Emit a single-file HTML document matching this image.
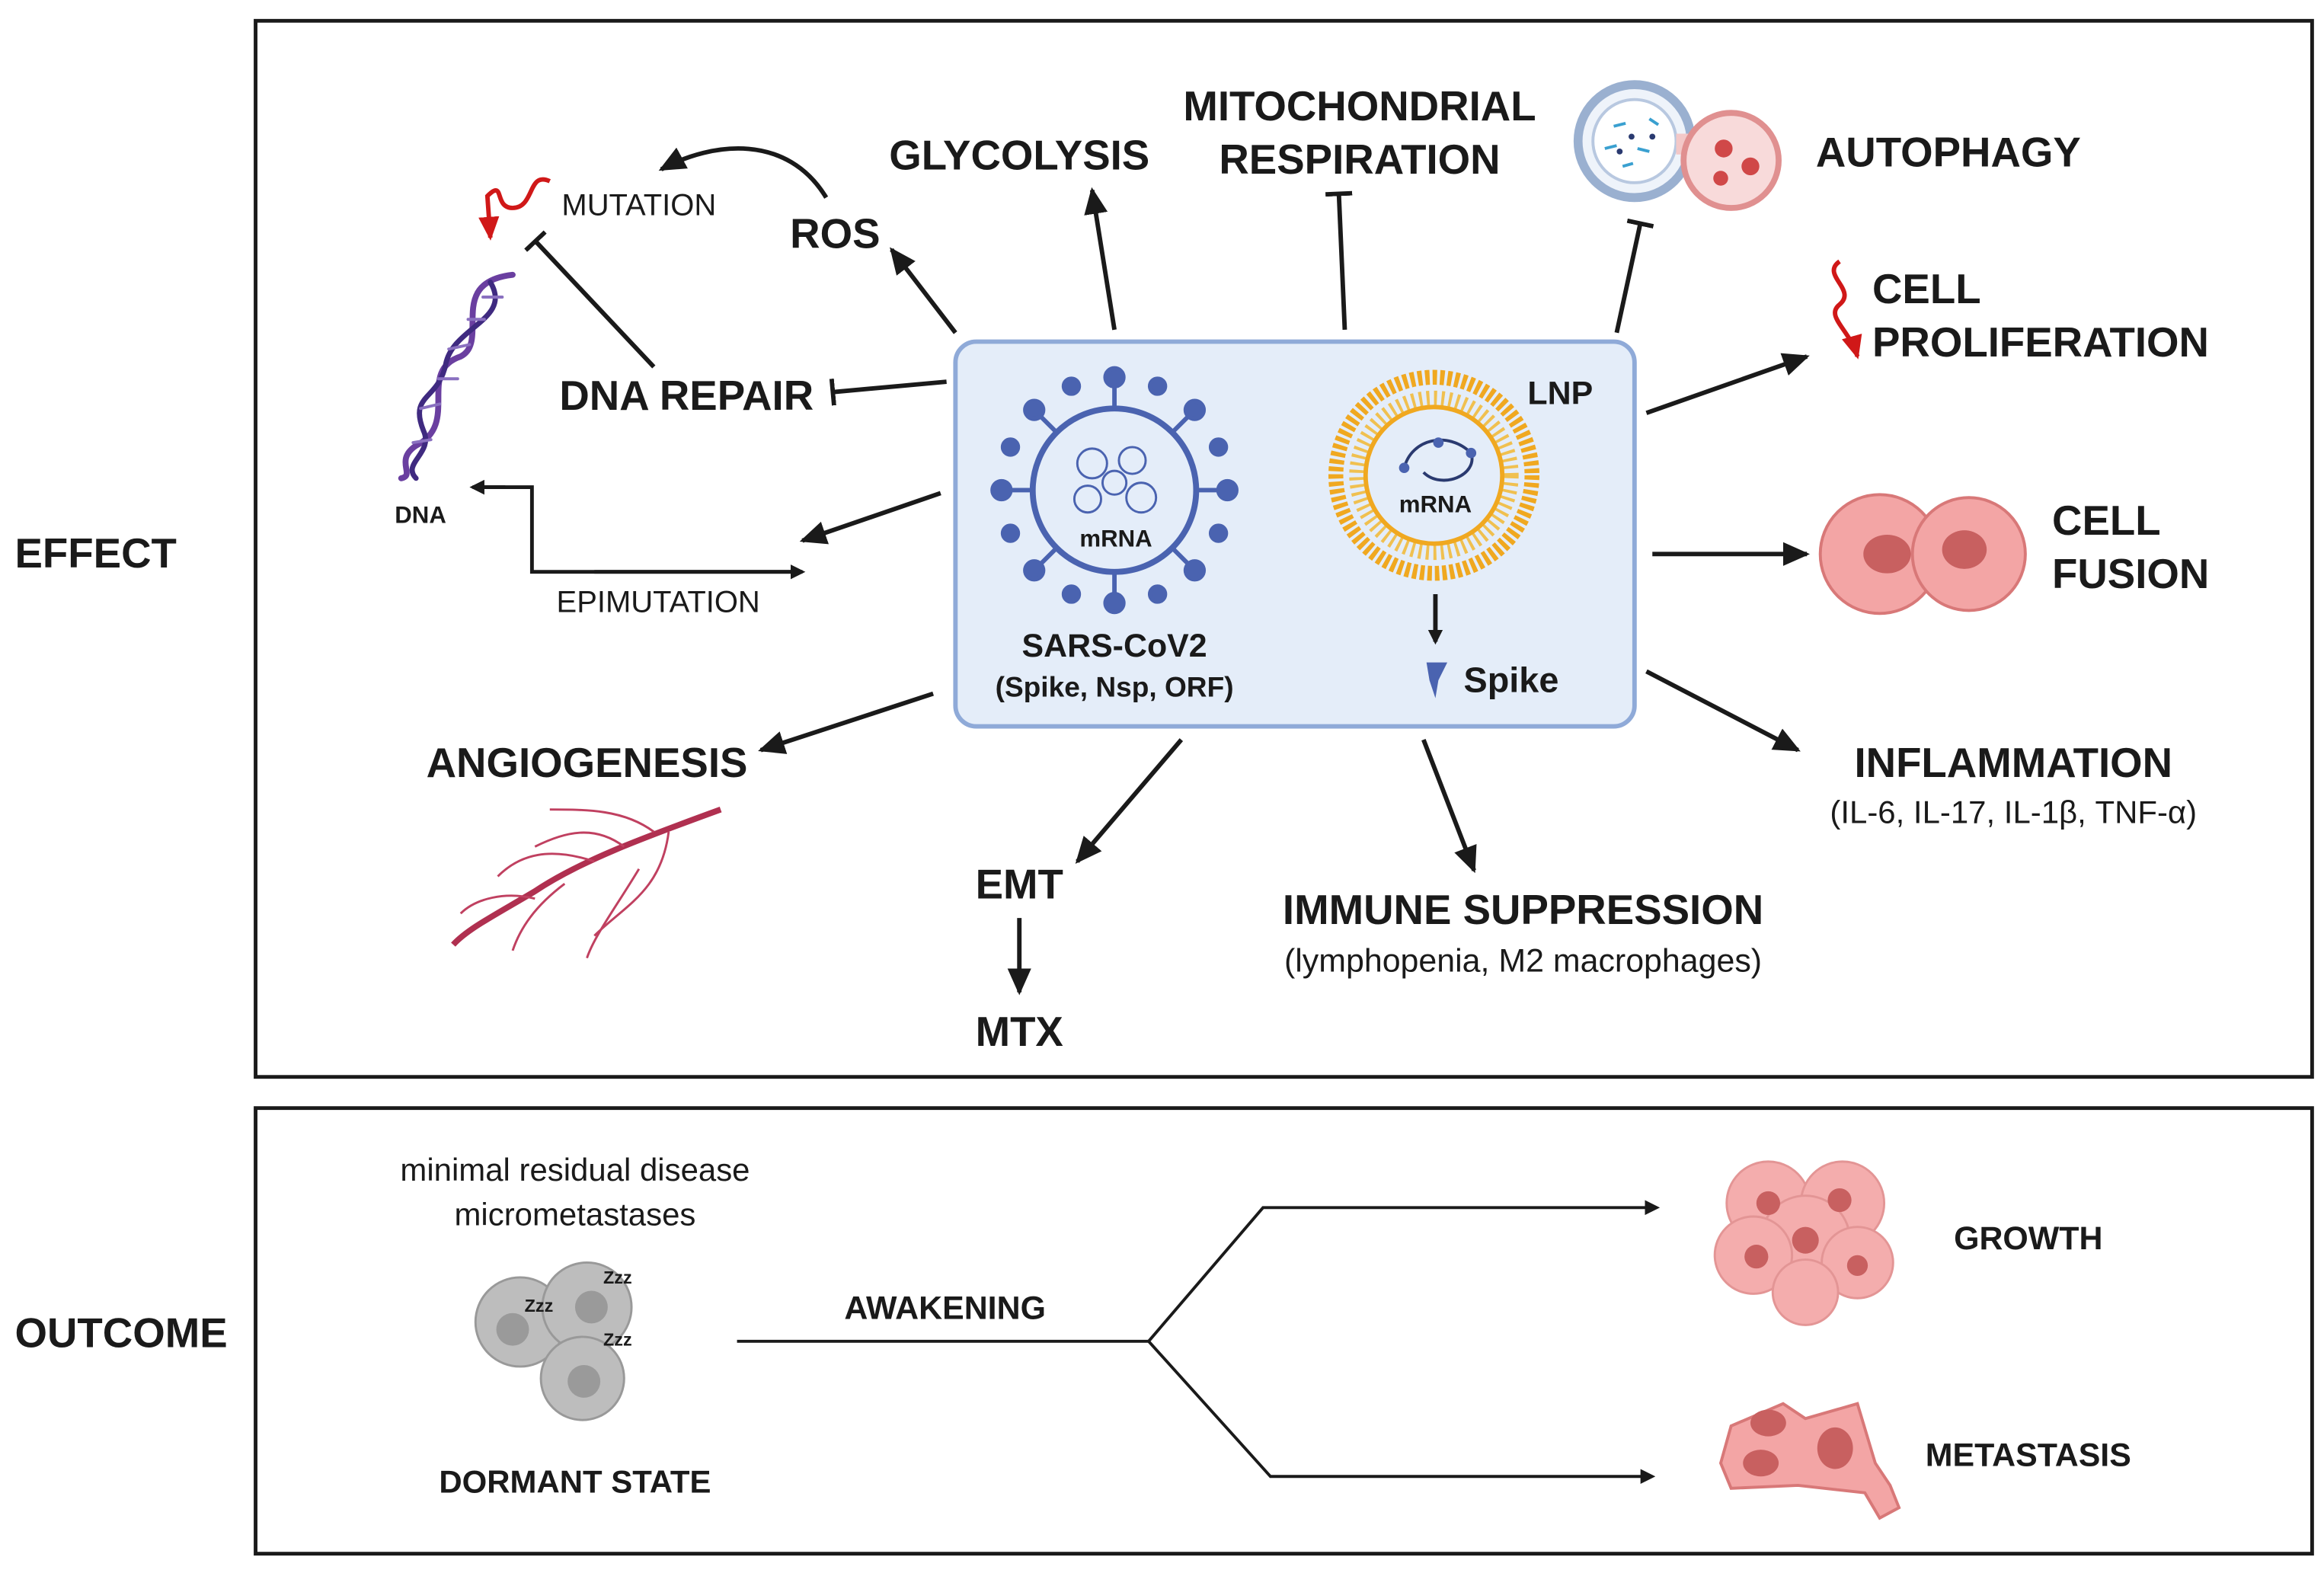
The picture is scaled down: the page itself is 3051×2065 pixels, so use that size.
<!DOCTYPE html>
<html><head><meta charset="utf-8"><style>
html,body{margin:0;padding:0;background:#fff;}
svg{display:block;}
text{font-family:"Liberation Sans",sans-serif;fill:#1a1a1a;}
.b{font-weight:bold;font-size:28px;}
.r{font-size:20.5px;}
</style></head><body>
<svg width="3051" height="2065" viewBox="0 0 1564 1059" preserveAspectRatio="none" xmlns="http://www.w3.org/2000/svg">
<defs>
<marker id="a" markerWidth="10" markerHeight="10" refX="8" refY="5" orient="auto" markerUnits="userSpaceOnUse" viewBox="0 0 10 10">
<path d="M0,0 L10,5 L0,10 z" fill="#1a1a1a"/></marker>
<marker id="ab" markerWidth="18" markerHeight="18" refX="16" refY="9" orient="auto" markerUnits="userSpaceOnUse" viewBox="0 0 18 18">
<path d="M0,1 L18,9 L0,17 z" fill="#1a1a1a"/></marker>
<marker id="t" markerWidth="4" markerHeight="18" refX="2" refY="9" orient="auto" markerUnits="userSpaceOnUse" viewBox="0 0 4 18">
<rect x="0" y="0" width="3" height="18" fill="#1a1a1a"/></marker>
<marker id="ar" markerWidth="16" markerHeight="16" refX="14" refY="8" orient="auto" markerUnits="userSpaceOnUse" viewBox="0 0 16 16">
<path d="M0,1 L16,8 L0,15 z" fill="#d01818"/></marker>
</defs>
<rect x="172" y="14" width="1384" height="711" fill="none" stroke="#1a1a1a" stroke-width="2.5"/>
<rect x="172" y="746" width="1384" height="300" fill="none" stroke="#1a1a1a" stroke-width="2.5"/>
<text x="10" y="382" class="b">EFFECT</text>
<text x="10" y="907" class="b">OUTCOME</text>

<rect x="643" y="230" width="457" height="259" rx="14" fill="#e4edf9" stroke="#8faad8" stroke-width="3"/>
<g transform="translate(750,330)">
<circle r="55" fill="none" stroke="#4a63b0" stroke-width="4"/>
<g stroke="#4a63b0" stroke-width="3" fill="#4a63b0">
<line x1="0" y1="-55" x2="0" y2="-72"/><circle cx="0" cy="-76" r="6"/>
<line x1="0" y1="55" x2="0" y2="72"/><circle cx="0" cy="76" r="6"/>
<line x1="-55" y1="0" x2="-72" y2="0"/><circle cx="-76" cy="0" r="6"/>
<line x1="55" y1="0" x2="72" y2="0"/><circle cx="76" cy="0" r="6"/>
<line x1="39" y1="39" x2="51" y2="51"/><circle cx="54" cy="54" r="6"/>
<line x1="-39" y1="39" x2="-51" y2="51"/><circle cx="-54" cy="54" r="6"/>
<line x1="39" y1="-39" x2="51" y2="-51"/><circle cx="54" cy="-54" r="6"/>
<line x1="-39" y1="-39" x2="-51" y2="-51"/><circle cx="-54" cy="-54" r="6"/>
<circle cx="-29" cy="-70" r="5"/><circle cx="29" cy="-70" r="5"/><circle cx="-29" cy="70" r="5"/><circle cx="29" cy="70" r="5"/>
<circle cx="-70" cy="-29" r="5"/><circle cx="70" cy="-29" r="5"/><circle cx="-70" cy="29" r="5"/><circle cx="70" cy="29" r="5"/>
</g>
<g fill="none" stroke="#4a63b0" stroke-width="1.5">
<circle cx="-15" cy="-18" r="10"/><circle cx="12" cy="-20" r="9"/><circle cx="18" cy="5" r="10"/><circle cx="-18" cy="6" r="9"/><circle cx="0" cy="-5" r="8"/>
</g>
</g>
<text x="751" y="368" text-anchor="middle" font-weight="bold" font-size="16">mRNA</text>
<text x="750" y="442" text-anchor="middle" font-weight="bold" font-size="22">SARS-CoV2</text>
<text x="750" y="469" text-anchor="middle" font-weight="bold" font-size="19">(Spike, Nsp, ORF)</text>
<circle cx="965" cy="320" r="66" fill="none" stroke="#f0a820" stroke-width="10" stroke-dasharray="3 2"/>
<circle cx="965" cy="320" r="52" fill="none" stroke="#f0c050" stroke-width="10" stroke-dasharray="2 3"/>
<circle cx="965" cy="320" r="46" fill="#e4edf9" stroke="#f0a820" stroke-width="3"/>
<path d="M945,315 C950,295 975,290 990,305 C995,320 970,330 958,318" fill="none" stroke="#2a3a70" stroke-width="2"/>
<circle cx="945" cy="315" r="3.5" fill="#4a63b0"/><circle cx="990" cy="305" r="3.5" fill="#4a63b0"/><circle cx="968" cy="298" r="3.5" fill="#4a63b0"/>
<text x="966" y="345" text-anchor="middle" font-weight="bold" font-size="16">mRNA</text>
<text x="1050" y="272" text-anchor="middle" font-weight="bold" font-size="22">LNP</text>
<line x1="966" y1="400" x2="966" y2="432" stroke="#1a1a1a" stroke-width="3" marker-end="url(#a)"/>
<path d="M960,446 L974,446 L968,458 L966,470 L962,458 z" fill="#4a63b0"/>
<text x="985" y="466" font-weight="bold" font-size="24">Spike</text>

<text x="686" y="114" text-anchor="middle" class="b">GLYCOLYSIS</text>
<text x="915" y="81" text-anchor="middle" class="b">MITOCHONDRIAL</text>
<text x="915" y="117" text-anchor="middle" class="b">RESPIRATION</text>
<text x="1222" y="112" class="b">AUTOPHAGY</text>
<text x="562" y="167" text-anchor="middle" class="b">ROS</text>
<text x="378" y="145" class="r">MUTATION</text>
<text x="462" y="276" text-anchor="middle" class="b">DNA REPAIR</text>
<text x="283" y="352" text-anchor="middle" font-weight="bold" font-size="16">DNA</text>
<text x="443" y="412" text-anchor="middle" class="r">EPIMUTATION</text>
<text x="1260" y="204" class="b">CELL</text>
<text x="1260" y="240" class="b">PROLIFERATION</text>
<text x="1381" y="360" class="b">CELL</text>
<text x="1381" y="396" class="b">FUSION</text>
<text x="1355" y="523" text-anchor="middle" class="b">INFLAMMATION</text>
<text x="1355" y="554" text-anchor="middle" font-size="21.5">(IL-6, IL-17, IL-1β, TNF-α)</text>
<text x="395" y="523" text-anchor="middle" class="b">ANGIOGENESIS</text>
<text x="686" y="605" text-anchor="middle" class="b">EMT</text>
<text x="686" y="704" text-anchor="middle" class="b">MTX</text>
<text x="1025" y="622" text-anchor="middle" class="b">IMMUNE SUPPRESSION</text>
<text x="1025" y="654" text-anchor="middle" font-size="22">(lymphopenia, M2 macrophages)</text>

<g stroke="#1a1a1a" stroke-width="3" fill="none">
<line x1="643" y1="224" x2="600" y2="168" marker-end="url(#ab)"/>
<line x1="750" y1="222" x2="735" y2="128" marker-end="url(#ab)"/>
<line x1="905" y1="222" x2="901" y2="130" marker-end="url(#t)"/>
<line x1="1088" y1="224" x2="1104" y2="150" marker-end="url(#t)"/>
<path d="M556,133 C530,90 480,95 445,114" marker-end="url(#ab)"/>
<line x1="440" y1="247" x2="360" y2="162" marker-end="url(#t)"/>
<line x1="637" y1="257" x2="560" y2="264" marker-end="url(#t)"/>
<line x1="633" y1="332" x2="540" y2="364" marker-end="url(#ab)"/>
<path d="M538,385 L358,385 L358,328 L320,328" stroke-width="2.5"/>
<line x1="400" y1="385" x2="540" y2="385" stroke-width="2.5" marker-end="url(#a)"/>
<line x1="340" y1="328" x2="318" y2="328" stroke-width="2.5" marker-end="url(#a)"/>
<line x1="628" y1="467" x2="512" y2="505" marker-end="url(#ab)"/>
<line x1="795" y1="498" x2="725" y2="580" marker-end="url(#ab)"/>
<line x1="686" y1="618" x2="686" y2="668" marker-end="url(#ab)"/>
<line x1="958" y1="498" x2="992" y2="586" marker-end="url(#ab)"/>
<line x1="1108" y1="452" x2="1210" y2="505" marker-end="url(#ab)"/>
<line x1="1112" y1="373" x2="1216" y2="373" marker-end="url(#ab)"/>
<line x1="1108" y1="278" x2="1216" y2="240" marker-end="url(#ab)"/>
</g>
<path d="M370,122 C355,115 360,140 345,140 C332,140 340,120 328,132 L330,160" fill="none" stroke="#d01818" stroke-width="3" marker-end="url(#ar)"/>
<path d="M1238,176 C1225,185 1250,195 1238,205 C1228,213 1245,222 1250,240" fill="none" stroke="#d01818" stroke-width="3" marker-end="url(#ar)"/>
<!-- DNA helix -->
<g fill="none" stroke-linecap="round">
<path d="M345,185 C300,190 330,230 310,240 C280,250 310,285 280,300 C265,310 280,320 270,322" stroke="#6a3fa0" stroke-width="4"/>
<path d="M330,190 C345,215 305,220 300,245 C295,270 275,265 285,290 C292,305 270,312 280,322" stroke="#3f2a80" stroke-width="3.5"/>
<g stroke="#8a70c0" stroke-width="2">
<line x1="325" y1="200" x2="338" y2="200"/><line x1="315" y1="215" x2="326" y2="215"/><line x1="302" y1="235" x2="316" y2="232"/><line x1="295" y1="255" x2="308" y2="255"/><line x1="283" y1="275" x2="296" y2="272"/><line x1="278" y1="298" x2="290" y2="296"/>
</g>
</g>
<circle cx="1100" cy="95" r="38" fill="#eef3fa" stroke="#9ab0d0" stroke-width="6"/>
<circle cx="1100" cy="95" r="28" fill="#fff" stroke="#b8c8e0" stroke-width="2"/>
<rect x="1128" y="90" width="20" height="14" fill="#f3c8c8"/>
<circle cx="1165" cy="108" r="32" fill="#f8dada" stroke="#e09090" stroke-width="4"/>
<circle cx="1160" cy="100" r="6" fill="#d04848"/><circle cx="1178" cy="112" r="6" fill="#d04848"/><circle cx="1158" cy="120" r="5" fill="#d04848"/>
<g stroke="#3aa0d0" stroke-width="2"><line x1="1086" y1="85" x2="1094" y2="83"/><line x1="1102" y1="100" x2="1110" y2="102"/><line x1="1092" y1="112" x2="1099" y2="110"/><line x1="1110" y1="80" x2="1116" y2="84"/><line x1="1080" y1="100" x2="1088" y2="98"/></g>
<g fill="#2a3a70"><circle cx="1098" cy="92" r="2"/><circle cx="1112" cy="92" r="2"/><circle cx="1090" cy="102" r="2"/></g>
<g fill="#f3a5a5" stroke="#d87878" stroke-width="2">
<circle cx="1265" cy="373" r="40"/><circle cx="1325" cy="373" r="38"/>
</g>
<ellipse cx="1270" cy="373" rx="16" ry="13" fill="#c86060"/><ellipse cx="1322" cy="370" rx="15" ry="13" fill="#c86060"/>
<g fill="none" stroke="#b03050" stroke-width="4">
<path d="M485,545 C430,565 390,580 360,600 C335,615 315,625 305,636"/>
</g>
<g fill="none" stroke="#c04060" stroke-width="1.5">
<path d="M440,560 C420,545 395,545 370,545"/><path d="M400,580 C370,570 350,575 335,590"/><path d="M380,595 C360,610 350,625 345,640"/><path d="M450,560 C445,600 420,610 400,630"/><path d="M360,605 C340,600 320,605 310,615"/><path d="M420,570 C400,555 380,560 360,570"/><path d="M430,585 C415,610 400,630 395,645"/>
</g>

<text x="387" y="795" text-anchor="middle" font-size="21.5">minimal residual disease</text>
<text x="387" y="825" text-anchor="middle" font-size="21.5">micrometastases</text>
<g fill="#bdbdbd" stroke="#999" stroke-width="1.5">
<circle cx="350" cy="890" r="30"/><circle cx="395" cy="880" r="30"/><circle cx="392" cy="928" r="28"/>
</g>
<g fill="#9a9a9a"><circle cx="345" cy="895" r="11"/><circle cx="398" cy="880" r="11"/><circle cx="393" cy="930" r="11"/></g>
<text x="353" y="883" font-weight="bold" font-size="12">Zzz</text>
<text x="406" y="864" font-weight="bold" font-size="12">Zzz</text>
<text x="406" y="906" font-weight="bold" font-size="12">Zzz</text>
<text x="387" y="1005" text-anchor="middle" font-weight="bold" font-size="21.5">DORMANT STATE</text>
<text x="636" y="888" text-anchor="middle" font-weight="bold" font-size="22">AWAKENING</text>
<g stroke="#1a1a1a" stroke-width="2" fill="none">
<line x1="496" y1="903" x2="773" y2="903"/>
<path d="M773,903 L850,813 L1115,813" marker-end="url(#a)"/>
<path d="M773,903 L855,994 L1112,994" marker-end="url(#a)"/>
</g>
<g fill="#f3a5a5" stroke="#e08a8a" stroke-width="1.5" opacity="0.9">
<circle cx="1190" cy="810" r="28"/><circle cx="1240" cy="810" r="28"/><circle cx="1215" cy="835" r="30"/><circle cx="1180" cy="845" r="26"/><circle cx="1250" cy="850" r="24"/><circle cx="1215" cy="870" r="22"/>
</g>
<g fill="#c86060"><circle cx="1190" cy="810" r="8"/><circle cx="1238" cy="808" r="8"/><circle cx="1215" cy="835" r="9"/><circle cx="1182" cy="846" r="8"/><circle cx="1250" cy="852" r="7"/></g>
<text x="1365" y="841" text-anchor="middle" font-weight="bold" font-size="22">GROWTH</text>
<path d="M1165,960 L1200,945 L1215,955 L1250,945 L1262,985 L1272,1000 L1278,1015 L1265,1022 L1255,1005 L1210,1000 L1165,1002 L1158,985 z" fill="#f3a5a5" stroke="#d87878" stroke-width="2"/>
<ellipse cx="1190" cy="958" rx="12" ry="9" fill="#c86060"/><ellipse cx="1235" cy="975" rx="12" ry="14" fill="#c86060"/><ellipse cx="1185" cy="985" rx="12" ry="9" fill="#c86060"/>
<text x="1365" y="987" text-anchor="middle" font-weight="bold" font-size="22">METASTASIS</text>
</svg>
</body></html>
